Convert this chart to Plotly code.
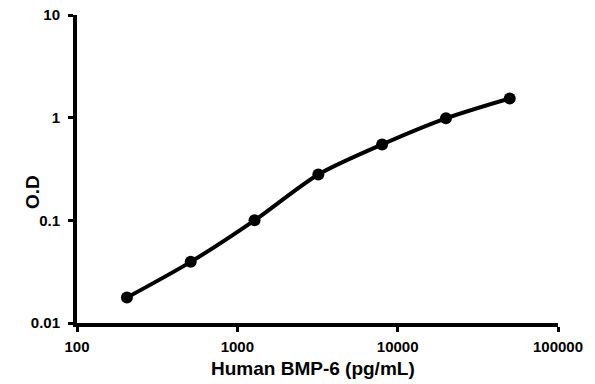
import plotly.graph_objects as go

concentration = [204.8, 512, 1280, 3200, 8000, 20000, 50000]
od = [0.0177, 0.0394, 0.100, 0.280, 0.549, 0.985, 1.54]

x_tickvals = [100, 1000, 10000, 100000]
x_ticktext = ["100", "1000", "10000", "100000"]
y_tickvals = [0.01, 0.1, 1, 10]
y_ticktext = ["0.01", "0.1", "1", "10"]
x_title = "Human BMP-6 (pg/mL)"
y_title = "O.D"

font = dict(family="Liberation Sans, Arial, sans-serif", color="black", weight="bold")

fig = go.Figure()
fig.add_trace(go.Scatter(
    x=concentration, y=od, mode="lines+markers",
    line=dict(color="black", width=4, shape="spline", smoothing=0.8),
    marker=dict(color="black", size=12),
    showlegend=False,
))

fig.update_xaxes(
    type="log", range=[2, 5], tickvals=x_tickvals, ticktext=x_ticktext,
    showline=True, linecolor="black", linewidth=4, ticks="outside",
    ticklen=5, tickwidth=3, tickcolor="black", showgrid=False, zeroline=False,
    tickfont=dict(size=15, **font), automargin=False, ticklabeloverflow="allow",
    ticklabelstandoff=2,
)
fig.update_yaxes(
    type="log", range=[-2, 1], tickvals=y_tickvals, ticktext=y_ticktext,
    showline=True, linecolor="black", linewidth=4, ticks="outside",
    ticklen=5, tickwidth=3, tickcolor="black", showgrid=False, zeroline=False,
    tickfont=dict(size=15, **font), automargin=False, ticklabeloverflow="allow",
    ticklabelstandoff=5,
)
fig.add_annotation(
    text=x_title, xref="paper", yref="paper", x=0.49, y=-0.149,
    xanchor="center", yanchor="middle", showarrow=False, font=dict(size=19, **font),
)
fig.add_annotation(
    text=y_title, xref="paper", yref="paper", x=-0.0936, y=0.425, textangle=-90,
    xanchor="center", yanchor="middle", showarrow=False, font=dict(size=19, **font),
)
fig.update_layout(
    width=595, height=384, plot_bgcolor="white", paper_bgcolor="white",
    margin=dict(l=77, r=37, t=15, b=61, autoexpand=False),
)
fig.write_html("out.html", config={"displayModeBar": False},
               post_script="document.body.style.margin='0';")
